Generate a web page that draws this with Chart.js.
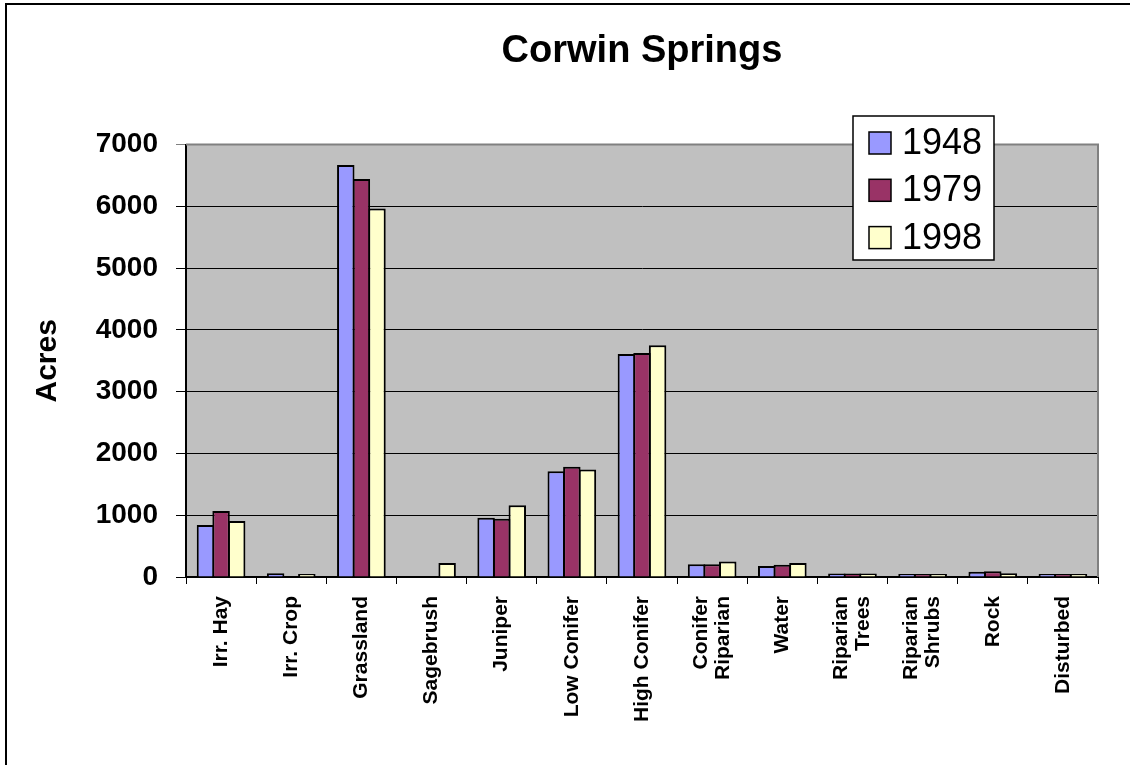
<!DOCTYPE html>
<html>
<head>
<meta charset="utf-8">
<title>Corwin Springs</title>
<script src="https://cdn.jsdelivr.net/npm/chart.js@4"></script>
<style>
    html, body { margin: 0; padding: 0; background: #fff; }
    #wrap { position: relative; width: 1130px; height: 765px; }
</style>
</head>
<body>
<div id="wrap"><canvas id="chart" width="1130" height="765"></canvas></div>
<script>
// Datos (acres por tipo de cobertura); null = sin barra
const categories = ['Irr. Hay', 'Irr. Crop', 'Grassland', 'Sagebrush', 'Juniper', 'Low Conifer', 'High Conifer',
    ['Conifer', 'Riparian'], 'Water', ['Riparian', 'Trees'], ['Riparian', 'Shrubs'], 'Rock', 'Disturbed'];
const years = ['1948', '1979', '1998'];
const acres1948 = [840, 60, 6670, null, 960, 1710, 3610, 205, 180, 55, 12, 85, 10];
const acres1979 = [1070, null, 6445, null, 945, 1785, 3625, 205, 200, 55, 12, 92, 10];
const acres1998 = [905, 12, 5965, 225, 1160, 1740, 3750, 250, 228, 55, 12, 60, 44];
const yTicks = [0, 1000, 2000, 3000, 4000, 5000, 6000, 7000];
const colors = ['#9999FF', '#993366', '#FFFFCC'];

const FONT = '"Liberation Sans", Arial, sans-serif';

// fondo gris del area de trazado + marco exterior
const plotBackground = {
    id: 'plotBackground',
    beforeDraw: (chart) => {
        const { ctx, chartArea: a } = chart;
        ctx.save();
        ctx.fillStyle = '#C0C0C0';
        ctx.fillRect(a.left, a.top, a.right - a.left, a.bottom - a.top);
        ctx.strokeStyle = '#000';
        ctx.lineWidth = 2;
        ctx.beginPath();
        ctx.moveTo(6, 765);
        ctx.lineTo(6, 4);
        ctx.lineTo(1130, 4);
        ctx.stroke();
        ctx.restore();
    },
    beforeDatasetsDraw: (chart) => {
        const { ctx, chartArea: a } = chart;
        ctx.save();
        ctx.strokeStyle = '#808080';
        ctx.lineWidth = 2;
        ctx.beginPath();
        ctx.moveTo(a.left, a.top);
        ctx.lineTo(a.right, a.top);
        ctx.lineTo(a.right, a.bottom);
        ctx.stroke();
        ctx.restore();
    }
};

// etiquetas verticales del eje X (centradas aunque tengan dos lineas)
const xLabels = {
    id: 'xLabels',
    afterDraw: (chart) => {
        const { ctx } = chart;
        const xScale = chart.scales.x;
        const lh = 22;
        ctx.save();
        ctx.fillStyle = '#000';
        ctx.font = 'bold 21px ' + FONT;
        ctx.textAlign = 'right';
        ctx.textBaseline = 'middle';
        chart.data.labels.forEach((label, i) => {
            const lines = Array.isArray(label) ? label : [label];
            const x = xScale.getPixelForTick(i);
            lines.forEach((line, j) => {
                ctx.save();
                ctx.translate(x + (j - (lines.length - 1) / 2) * lh, xScale.top + 19);
                ctx.rotate(-Math.PI / 2);
                ctx.fillText(line, 0, 0);
                ctx.restore();
            });
        });
        ctx.restore();
    }
};

// leyenda dibujada encima del area de trazado
const boxLegend = {
    id: 'boxLegend',
    afterDraw: (chart) => {
        const { ctx } = chart;
        ctx.save();
        ctx.fillStyle = '#fff';
        ctx.strokeStyle = '#000';
        ctx.lineWidth = 1.5;
        ctx.fillRect(853, 116, 141, 144);
        ctx.strokeRect(853, 116, 141, 144);
        ctx.font = '36px ' + FONT;
        ctx.textBaseline = 'middle';
        chart.data.datasets.forEach((ds, i) => {
            const cy = 143 + i * 47.3;
            ctx.fillStyle = ds.backgroundColor;
            ctx.fillRect(869, cy - 11, 22, 22);
            ctx.strokeRect(869, cy - 11, 22, 22);
            ctx.fillStyle = '#000';
            ctx.fillText(ds.label, 902, cy + 1);
        });
        ctx.restore();
    }
};

const datasets = [acres1948, acres1979, acres1998].map((values, i) => ({
    label: years[i],
    data: values,
    backgroundColor: colors[i],
    borderColor: '#000',
    borderWidth: 2,
    borderSkipped: 'start',
    minBarLength: 3,
    categoryPercentage: 0.667,
    barPercentage: 1.12
}));

new Chart(document.getElementById('chart'), {
    type: 'bar',
    data: { labels: categories, datasets: datasets },
    plugins: [plotBackground, xLabels, boxLegend],
    options: {
        responsive: false,
        animation: false,
        devicePixelRatio: 1,
        layout: { padding: { left: 0, right: 32, top: 0, bottom: 0 } },
        plugins: {
            legend: { display: false },
            tooltip: { enabled: false },
            title: {
                display: true,
                fullSize: false,
                text: 'Corwin Springs',
                color: '#000',
                font: { family: FONT, size: 38, weight: 'bold' },
                padding: { top: 29, bottom: 70 }
            }
        },
        scales: {
            x: {
                grid: { display: true, drawOnChartArea: false, color: '#000', tickLength: 7, offset: true },
                border: { display: true, color: '#000', width: 2 },
                ticks: { display: false },
                afterFit: (scale) => { scale.height = 188; }
            },
            y: {
                min: 0,
                max: 7000,
                afterBuildTicks: (scale) => { scale.ticks = yTicks.map(v => ({ value: v })); },
                grid: {
                    color: (c) => (c.tick && c.tick.value === 7000 ? '#808080' : '#000'),
                    lineWidth: 1,
                    tickLength: 10
                },
                border: { display: true, color: '#000', width: 2 },
                ticks: {
                    padding: 18,
                    color: '#000',
                    font: { family: FONT, size: 28, weight: 'bold' },
                    callback: (v) => String(v)
                },
                title: {
                    display: true,
                    text: 'Acres',
                    color: '#000',
                    font: { family: FONT, size: 30, weight: 'bold' },
                    padding: { top: 30, bottom: 0 }
                },
                afterFit: (scale) => { scale.width = 186; }
            }
        }
    }
});
</script>
</body>
</html>
